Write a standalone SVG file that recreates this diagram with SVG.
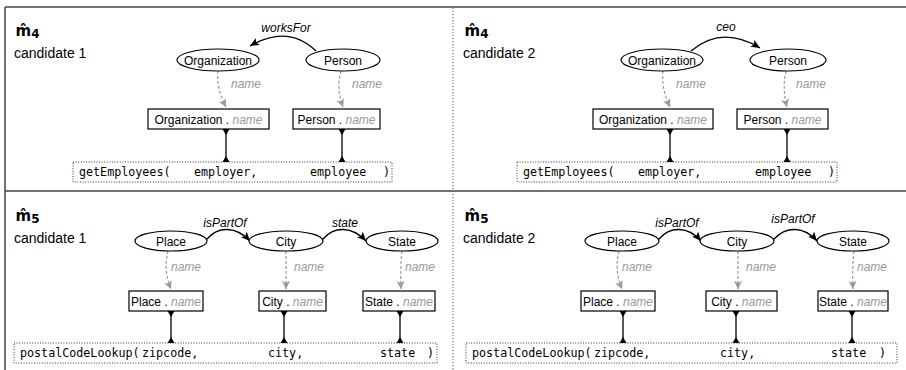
<svg xmlns="http://www.w3.org/2000/svg" width="906" height="370" viewBox="0 0 906 370">
<style>
.frame{stroke:#444;stroke-width:1.5;fill:none}
.div{stroke:#777;stroke-width:1.2;stroke-dasharray:1.2,1.8;fill:none}
.ell{fill:#fff;stroke:#000;stroke-width:1.2}
.rect{fill:#fff;stroke:#000;stroke-width:1.2}
.box{fill:none;stroke:#333;stroke-width:1;stroke-dasharray:1,1.6}
.t{font-family:"Liberation Sans",Arial,sans-serif;font-size:12px;fill:#000}
.n{font-family:"Liberation Sans",Arial,sans-serif;font-size:12px;font-style:italic;fill:#999}
.lab{font-family:"Liberation Sans",Arial,sans-serif;font-size:12px;font-style:italic;fill:#000}
.mono{font-family:"DejaVu Sans Mono","Liberation Mono",monospace;font-size:11.7px;fill:#000}
.cand{font-family:"Liberation Sans",Arial,sans-serif;font-size:14px;fill:#000}
.mh{font-family:"DejaVu Sans","Liberation Sans",sans-serif;font-weight:bold;font-size:15px;fill:#000}
.sub{font-size:12px}
.rel{fill:none;stroke:#000;stroke-width:1.3;marker-end:url(#ab)}
.dash{fill:none;stroke:#999;stroke-width:1.2;stroke-dasharray:3,2;marker-end:url(#ag)}
.link{fill:none;stroke:#000;stroke-width:1.3;marker-start:url(#tri);marker-end:url(#tri)}
</style>
<defs>
<marker id="ab" viewBox="0 0 9 8" refX="9" refY="4" markerWidth="9" markerHeight="8" markerUnits="userSpaceOnUse" orient="auto"><path d="M0,0 L9,4 L0,8 L2,4 Z" fill="#000"/></marker>
<marker id="ag" viewBox="0 0 8 8" refX="8" refY="4" markerWidth="8" markerHeight="8" markerUnits="userSpaceOnUse" orient="auto"><path d="M0,0 L8,4 L0,8 L2,4 Z" fill="#999"/></marker>
<marker id="tri" viewBox="0 0 6 8" refX="6" refY="4" markerWidth="6" markerHeight="8" markerUnits="userSpaceOnUse" orient="auto-start-reverse"><path d="M6,0.5 L6,7.5 L0,4 Z" fill="#000"/></marker>
</defs>

<g id="frame">
<line class="frame" x1="5" y1="7" x2="906" y2="7"/>
<line class="frame" x1="5" y1="7" x2="5" y2="370"/>
<line class="frame" x1="5" y1="191" x2="906" y2="191"/>
<line class="div" x1="453" y1="8" x2="453" y2="370"/>
</g>

<g id="panel-labels">
<text class="mh" x="15.5" y="35.5">m̂<tspan class="sub" dy="2">4</tspan></text>
<text class="cand" x="14" y="58">candidate 1</text>
<text class="mh" x="464.5" y="35.5">m̂<tspan class="sub" dy="2">4</tspan></text>
<text class="cand" x="463" y="58">candidate 2</text>
<text class="mh" x="15.5" y="220.5">m̂<tspan class="sub" dy="2">5</tspan></text>
<text class="cand" x="14" y="243">candidate 1</text>
<text class="mh" x="464.5" y="220.5">m̂<tspan class="sub" dy="2">5</tspan></text>
<text class="cand" x="463" y="243">candidate 2</text>
</g>

<g id="connectors">
<path class="rel" d="M316,51 Q288,24 250,46"/>
<text class="lab" x="286" y="32" text-anchor="middle">worksFor</text>
<path class="rel" d="M691,51 Q722,25 760,48"/>
<text class="lab" x="726" y="31" text-anchor="middle">ceo</text>
<path class="rel" d="M207,239 C218,226 236,226 250,241"/>
<text class="lab" x="225" y="227" text-anchor="middle">isPartOf</text>
<path class="rel" d="M323,239 C334,226 352,226 366,241"/>
<text class="lab" x="345" y="227" text-anchor="middle">state</text>
<path class="rel" d="M659,239 C670,226 688,226 701,241"/>
<text class="lab" x="677" y="227" text-anchor="middle">isPartOf</text>
<path class="rel" d="M774,239 C786,226 804,226 817,241"/>
<text class="lab" x="793" y="223" text-anchor="middle">isPartOf</text>

<path class="dash" d="M218,71 Q216,88 226,107"/>
<text class="n" x="246" y="88" text-anchor="middle">name</text>
<path class="dash" d="M341,71 Q336,88 343,107"/>
<text class="n" x="367" y="88" text-anchor="middle">name</text>
<path class="dash" d="M663,71 Q661,88 670,107"/>
<text class="n" x="691" y="88" text-anchor="middle">name</text>
<path class="dash" d="M786,71 Q782,88 787,107"/>
<text class="n" x="811" y="88" text-anchor="middle">name</text>

<path class="dash" d="M168,251 Q163,270 171,289"/>
<text class="n" x="186" y="271" text-anchor="middle">name</text>
<path class="dash" d="M286,251 L286,289"/>
<text class="n" x="309" y="271" text-anchor="middle">name</text>
<path class="dash" d="M402,251 Q400,270 401,289"/>
<text class="n" x="420" y="271" text-anchor="middle">name</text>
<path class="dash" d="M619,251 Q614,270 622,289"/>
<text class="n" x="637" y="271" text-anchor="middle">name</text>
<path class="dash" d="M738,251 L738,289"/>
<text class="n" x="761" y="271" text-anchor="middle">name</text>
<path class="dash" d="M854,251 Q852,270 853,289"/>
<text class="n" x="872" y="271" text-anchor="middle">name</text>

<path class="link" d="M226,129 L226,162"/>
<path class="link" d="M342,129 L342,162"/>
<path class="link" d="M670,129 L670,162"/>
<path class="link" d="M787,129 L787,162"/>
<path class="link" d="M171,311 L171,343"/>
<path class="link" d="M284,311 L284,343"/>
<path class="link" d="M400,311 L400,343"/>
<path class="link" d="M623,311 L623,343"/>
<path class="link" d="M736,311 L736,343"/>
<path class="link" d="M852,311 L852,343"/>
</g>

<g id="a-organization"><ellipse class="ell" cx="218" cy="60" rx="41" ry="11"/><text class="t" x="218" y="64.5" text-anchor="middle">Organization</text></g>
<g id="a-person"><ellipse class="ell" cx="343" cy="60" rx="37" ry="11"/><text class="t" x="343" y="64.5" text-anchor="middle">Person</text></g>
<g id="a-org-name"><rect class="rect" x="148" y="109" width="121" height="20"/><text class="t" x="208.5" y="123.5" text-anchor="middle">Organization . <tspan class="n">name</tspan></text></g>
<g id="a-person-name"><rect class="rect" x="293" y="109" width="87" height="20"/><text class="t" x="336.5" y="123.5" text-anchor="middle">Person . <tspan class="n">name</tspan></text></g>
<g id="a-call"><rect class="box" x="73" y="162" width="319" height="20"/><text class="mono" y="176"><tspan x="79">getEmployees(</tspan><tspan x="194">employer,</tspan><tspan x="310">employee</tspan><tspan x="383">)</tspan></text></g>

<g id="b-organization"><ellipse class="ell" cx="662" cy="60" rx="41" ry="11"/><text class="t" x="662" y="64.5" text-anchor="middle">Organization</text></g>
<g id="b-person"><ellipse class="ell" cx="788" cy="60" rx="38" ry="11"/><text class="t" x="788" y="64.5" text-anchor="middle">Person</text></g>
<g id="b-org-name"><rect class="rect" x="593" y="109" width="120" height="20"/><text class="t" x="653" y="123.5" text-anchor="middle">Organization . <tspan class="n">name</tspan></text></g>
<g id="b-person-name"><rect class="rect" x="737" y="109" width="91" height="20"/><text class="t" x="782.5" y="123.5" text-anchor="middle">Person . <tspan class="n">name</tspan></text></g>
<g id="b-call"><rect class="box" x="517" y="162" width="320" height="20"/><text class="mono" y="176"><tspan x="523">getEmployees(</tspan><tspan x="638">employer,</tspan><tspan x="755">employee</tspan><tspan x="828">)</tspan></text></g>

<g id="c-place"><ellipse class="ell" cx="171" cy="241" rx="36" ry="10"/><text class="t" x="171" y="245.5" text-anchor="middle">Place</text></g>
<g id="c-city"><ellipse class="ell" cx="286" cy="241" rx="37" ry="10"/><text class="t" x="286" y="245.5" text-anchor="middle">City</text></g>
<g id="c-state"><ellipse class="ell" cx="402" cy="241" rx="36" ry="10"/><text class="t" x="402" y="245.5" text-anchor="middle">State</text></g>
<g id="c-place-name"><rect class="rect" x="129" y="291" width="74" height="20"/><text class="t" x="166" y="305.5" text-anchor="middle">Place . <tspan class="n">name</tspan></text></g>
<g id="c-city-name"><rect class="rect" x="259" y="291" width="67" height="20"/><text class="t" x="292.5" y="305.5" text-anchor="middle">City . <tspan class="n">name</tspan></text></g>
<g id="c-state-name"><rect class="rect" x="363" y="291" width="72" height="20"/><text class="t" x="399" y="305.5" text-anchor="middle">State . <tspan class="n">name</tspan></text></g>
<g id="c-call"><rect class="box" x="14" y="343" width="423" height="20"/><text class="mono" y="357"><tspan x="20">postalCodeLookup(</tspan><tspan x="142">zipcode,</tspan><tspan x="268">city,</tspan><tspan x="380">state</tspan><tspan x="427">)</tspan></text></g>

<g id="d-place"><ellipse class="ell" cx="622" cy="241" rx="37" ry="10"/><text class="t" x="622" y="245.5" text-anchor="middle">Place</text></g>
<g id="d-city"><ellipse class="ell" cx="737" cy="241" rx="37" ry="10"/><text class="t" x="737" y="245.5" text-anchor="middle">City</text></g>
<g id="d-state"><ellipse class="ell" cx="853" cy="241" rx="36" ry="10"/><text class="t" x="853" y="245.5" text-anchor="middle">State</text></g>
<g id="d-place-name"><rect class="rect" x="581" y="291" width="74" height="20"/><text class="t" x="618" y="305.5" text-anchor="middle">Place . <tspan class="n">name</tspan></text></g>
<g id="d-city-name"><rect class="rect" x="706" y="291" width="71" height="20"/><text class="t" x="741.5" y="305.5" text-anchor="middle">City . <tspan class="n">name</tspan></text></g>
<g id="d-state-name"><rect class="rect" x="818" y="291" width="70" height="20"/><text class="t" x="853" y="305.5" text-anchor="middle">State . <tspan class="n">name</tspan></text></g>
<g id="d-call"><rect class="box" x="466" y="343" width="431" height="20"/><text class="mono" y="357"><tspan x="472">postalCodeLookup(</tspan><tspan x="594">zipcode,</tspan><tspan x="720">city,</tspan><tspan x="831">state</tspan><tspan x="879">)</tspan></text></g>
</svg>
